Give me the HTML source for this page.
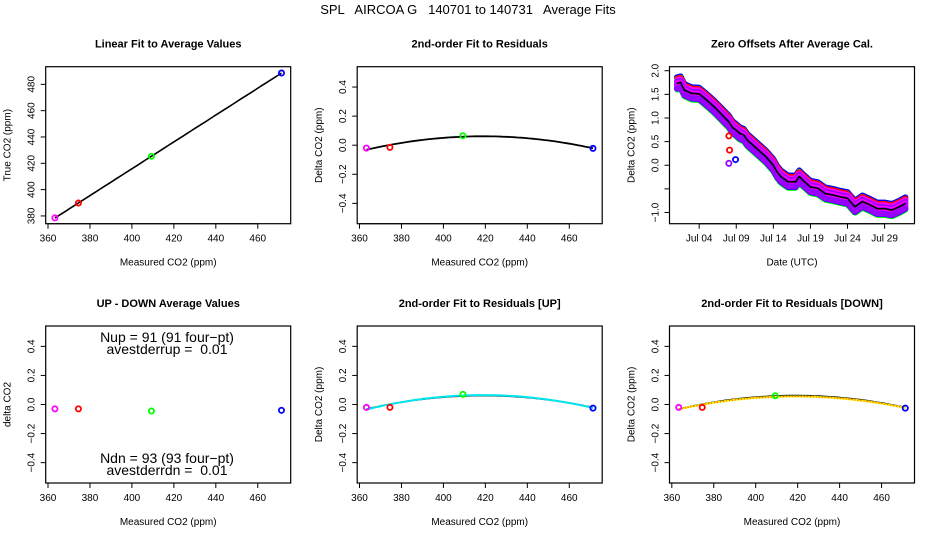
<!DOCTYPE html>
<html><head><meta charset="utf-8"><style>
body{margin:0;background:#fff}
svg{display:block;font-family:"Liberation Sans",sans-serif}
text{white-space:pre}
</style></head><body>
<svg id="c" width="936" height="540" viewBox="0 0 936 540">
<rect width="936" height="540" fill="#fff"/>
<text x="468" y="14" text-anchor="middle" font-size="13" xml:space="preserve">SPL   AIRCOA G   140701 to 140731   Average Fits</text>
</svg>
<script>
// ---- data ----
const tankColors = ["#ff00ff","#ff0000","#00ff00","#0000ff"];
const measured = [363.3, 374.5, 409.3, 471.3];
const trueVals = [378.5, 389.8, 425.3, 488.6];
const residuals = [-0.02, -0.015, 0.065, -0.022];
const upDown = [-0.03, -0.03, -0.045, -0.04];
const residUp = [-0.02, -0.02, 0.07, -0.025];
const residDown = [-0.02, -0.02, 0.06, -0.025];
const co2Ticks = [360, 380, 400, 420, 440, 460];
const trueTicks = [380, 400, 420, 440, 460, 480];
const deltaTicks = [-0.4, -0.2, 0.0, 0.2, 0.4];
const offDays = [1.0,1.5,2,3,4,5,6,7,8,8.5,9,9.5,10,10.5,11,12,13,14,14.5,15,16,17,17.5,18,19,20,21,22,23,24,25,26,27,28,29,30,31,31.8];
const offVals = [1.73,1.75,1.59,1.52,1.51,1.38,1.24,1.08,0.92,0.80,0.74,0.67,0.64,0.53,0.46,0.32,0.18,0.0,-0.14,-0.24,-0.35,-0.35,-0.24,-0.32,-0.46,-0.49,-0.60,-0.63,-0.67,-0.70,-0.88,-0.77,-0.84,-0.92,-0.92,-0.95,-0.88,-0.81];
const outlierDays = [8.1, 8.9, 8.0, 8.0];
const outlierVals = [0.32, 0.12, 0.04, 0.62];
const outlierColors = ["#ff0000","#0000ff","#9900ff","#ff0000"];
const dateTickDays = [4, 9, 14, 19, 24, 29];
const dateTickLabels = ["Jul 04","Jul 09","Jul 14","Jul 19","Jul 24","Jul 29"];
const offTicks = [-1.0, -0.5, 0.0, 0.5, 1.0, 1.5, 2.0];
const offTickLabels = ["-1.0", "", "0.0", "0.5", "1.0", "1.5", "2.0"];

const svg = document.getElementById('c');
const NS = "http://www.w3.org/2000/svg";
function mk(tag, attrs, parent){const e=document.createElementNS(NS,tag);for(const k in attrs)e.setAttribute(k,attrs[k]);(parent||svg).appendChild(e);return e;}

const colL=[45.7,357.2,669.5], rowT=[66.7,326], W=245, H=157;
function panel(col,row,xmin,xmax,ymin,ymax,title,xlab,ylab,name){
  const L=colL[col],T=rowT[row];
  const g=mk('g',{});
  
  
  const sx=v=>L+(v-xmin)/(xmax-xmin)*W, sy=v=>T+H-(v-ymin)/(ymax-ymin)*H;
  const t=mk('text',{x:L+W/2,y:T-19,'text-anchor':'middle','font-size':11,'font-weight':'bold'},g);t.textContent=title;
  
  
  const b=mk('rect',{x:L,y:T,width:W,height:H,fill:'none',stroke:'#000','stroke-width':1.2},g);
  
  
  const xl=mk('text',{x:L+W/2,y:T+H+42,'text-anchor':'middle','font-size':10},g);xl.textContent=xlab;
  
  
  const yl=mk('text',{x:0,y:0,'text-anchor':'middle','font-size':10,transform:`translate(${L-35},${T+H/2}) rotate(-90)`},g);yl.textContent=ylab;
  
  
  return {g,sx,sy,L,T};
}
function xAxis(p,vals,labels){
  const y=p.T+H;
  mk('line',{x1:p.sx(vals[0]),x2:p.sx(vals[vals.length-1]),y1:y,y2:y,stroke:'#000'},p.g);
  vals.forEach((v,i)=>{
    mk('line',{x1:p.sx(v),x2:p.sx(v),y1:y,y2:y+5,stroke:'#000'},p.g);
    const t=mk('text',{x:p.sx(v),y:y+18,'text-anchor':'middle','font-size':10},p.g);t.textContent=labels?labels[i]:String(v);
    
    
  });
}
function yAxis(p,vals,labels){
  const x=p.L;
  vals.forEach((v,i)=>{
    mk('line',{x1:x-5,x2:x,y1:p.sy(v),y2:p.sy(v),stroke:'#000'},p.g);
    const t=mk('text',{x:0,y:0,'text-anchor':'middle','font-size':10,transform:`translate(${x-11},${p.sy(v)}) rotate(-90)`},p.g);
    t.textContent=labels?labels[i]:(Math.abs(v)<1e-9?"0.0":v.toFixed(1).replace('-','\u2212'));
    if(labels&&labels[i].startsWith('-'))t.textContent=labels[i].replace('-','\u2212');
    
    
  });
}
function pts(p,xs,ys,cols){
  xs.forEach((x,i)=>{
    const c=mk('circle',{cx:p.sx(x),cy:p.sy(ys[i]),r:2.6,fill:'none',stroke:cols[i],'stroke-width':1.8},p.g);
    
    
  });
}
function quadFit(xs,ys){
  const m=xs.reduce((a,b)=>a+b)/xs.length;const u=xs.map(x=>x-m);
  let S=[[0,0,0],[0,0,0],[0,0,0]],R=[0,0,0];
  u.forEach((uu,i)=>{const r=[1,uu,uu*uu];for(let a=0;a<3;a++){R[a]+=r[a]*ys[i];for(let b=0;b<3;b++)S[a][b]+=r[a]*r[b];}});
  const A=S.map((r,i)=>[...r,R[i]]);
  for(let i=0;i<3;i++){for(let j=i+1;j<3;j++){const f=A[j][i]/A[i][i];for(let k=i;k<4;k++)A[j][k]-=f*A[i][k];}}
  const s=[0,0,0];for(let i=2;i>=0;i--){let v=A[i][3];for(let k=i+1;k<3;k++)v-=A[i][k]*s[k];s[i]=v/A[i][i];}
  return x=>s[0]+s[1]*(x-m)+s[2]*(x-m)*(x-m);
}
function curve(p,f,x0,x1,stroke,w,dash){
  let d='';for(let i=0;i<=60;i++){const x=x0+(x1-x0)*i/60;d+=(i?'L':'M')+p.sx(x).toFixed(1)+','+p.sy(f(x)).toFixed(1);}
  const e=mk('path',{d,fill:'none',stroke,'stroke-width':w},p.g);
  if(dash)e.setAttribute('stroke-dasharray',dash);
  
  
}
const xmin=358.9,xmax=475.7;
const x0=measured[0],x1=measured[3];

// Panel 1
let p=panel(0,0,xmin,xmax,374.1,493.4,"Linear Fit to Average Values","Measured CO2 (ppm)","True CO2 (ppm)","linear-fit-panel");
xAxis(p,co2Ticks);yAxis(p,trueTicks,trueTicks.map(String));
{const n=measured.length,mx=measured.reduce((a,b)=>a+b)/n,my=trueVals.reduce((a,b)=>a+b)/n;
let sxy=0,sxx=0;measured.forEach((x,i)=>{sxy+=(x-mx)*(trueVals[i]-my);sxx+=(x-mx)**2;});const b=sxy/sxx;
curve(p,x=>my+b*(x-mx),x0,x1,'#000',1.6);}
pts(p,measured,trueVals,tankColors);

// Panel 2
p=panel(1,0,xmin,xmax,-0.54,0.54,"2nd-order Fit to Residuals","Measured CO2 (ppm)","Delta CO2 (ppm)","residual-fit-panel");
xAxis(p,co2Ticks);yAxis(p,deltaTicks);
curve(p,quadFit(measured,residuals),x0,x1,'#000',1.8);
pts(p,measured,residuals,tankColors);

// Panel 3
p=panel(2,0,0,33.03,-1.237,2.085,"Zero Offsets After Average Cal.","Date (UTC)","Delta CO2 (ppm)","zero-offsets-panel");
xAxis(p,dateTickDays,dateTickLabels);yAxis(p,offTicks,offTickLabels);
{
 const bands=[["#0000ff",0.13],["#00ff00",-0.13],["#00ff00",0.1],["#ff0000",0.1],["#0000ff",-0.11],["#ff00ff",0.07],["#9900ff",0.035],["#ff00ff",0.0],["#9900ff",-0.035],["#ff00ff",-0.07],["#9900ff",-0.1]];
 bands.forEach(([col,off],bi)=>{
   for(let i=0;i<offDays.length;i++){
     const a=offDays[i],b=offDays[i+1]!==undefined?offDays[i+1]:offDays[i];
     const va=offVals[i],vb=offVals[i+1]!==undefined?offVals[i+1]:offVals[i];
     const steps=Math.max(1,Math.round((b-a)*7));
     for(let k=0;k<steps;k++){const t=(k+(bi%2)*0.5)/steps;
       const c=mk('circle',{cx:p.sx(a+(b-a)*t),cy:p.sy(va+(vb-va)*t+off),r:2.4,fill:'none',stroke:col,'stroke-width':1.2},p.g);
       
       
     }
   }
 });
 pts(p,outlierDays,outlierVals,outlierColors);
 let d='';offDays.forEach((x,i)=>{d+=(i?'L':'M')+p.sx(x).toFixed(1)+','+p.sy(offVals[i]).toFixed(1);});
 const ln=mk('path',{d,fill:'none',stroke:'#000','stroke-width':1.6},p.g);
 
 
}

// Panel 4
p=panel(0,1,xmin,xmax,-0.54,0.54,"UP - DOWN Average Values","Measured CO2 (ppm)","delta CO2","up-down-panel");
xAxis(p,co2Ticks);yAxis(p,deltaTicks);
pts(p,measured,upDown,tankColors);
[["Nup = 91 (91 four\u2212pt)",337],["avestderrup =  0.01",349],["Ndn = 93 (93 four\u2212pt)",458],["avestderrdn =  0.01",470]].forEach(([s,y])=>{
  const t=mk('text',{x:167,y:y+5,'text-anchor':'middle','font-size':14},p.g);t.textContent=s;
  
  
});

// Panel 5
p=panel(1,1,xmin,xmax,-0.54,0.54,"2nd-order Fit to Residuals [UP]","Measured CO2 (ppm)","Delta CO2 (ppm)","residual-up-panel");
xAxis(p,co2Ticks);yAxis(p,deltaTicks);
curve(p,quadFit(measured,residuals),x0,x1,'#000',1.6);
curve(p,quadFit(measured,residUp),x0,x1,'#00e5ee',2);
pts(p,measured,residUp,tankColors);

// Panel 6
p=panel(2,1,xmin,xmax,-0.54,0.54,"2nd-order Fit to Residuals [DOWN]","Measured CO2 (ppm)","Delta CO2 (ppm)","residual-down-panel");
xAxis(p,co2Ticks);yAxis(p,deltaTicks);
curve(p,quadFit(measured,residuals),x0,x1,'#000',1.6);
curve(p,quadFit(measured,residDown),x0,x1,'#ffee00',2);
curve(p,quadFit(measured,residDown),x0,x1,'#ff3300',1,'1 2');
pts(p,measured,residDown,tankColors);
</script>
</body></html>
